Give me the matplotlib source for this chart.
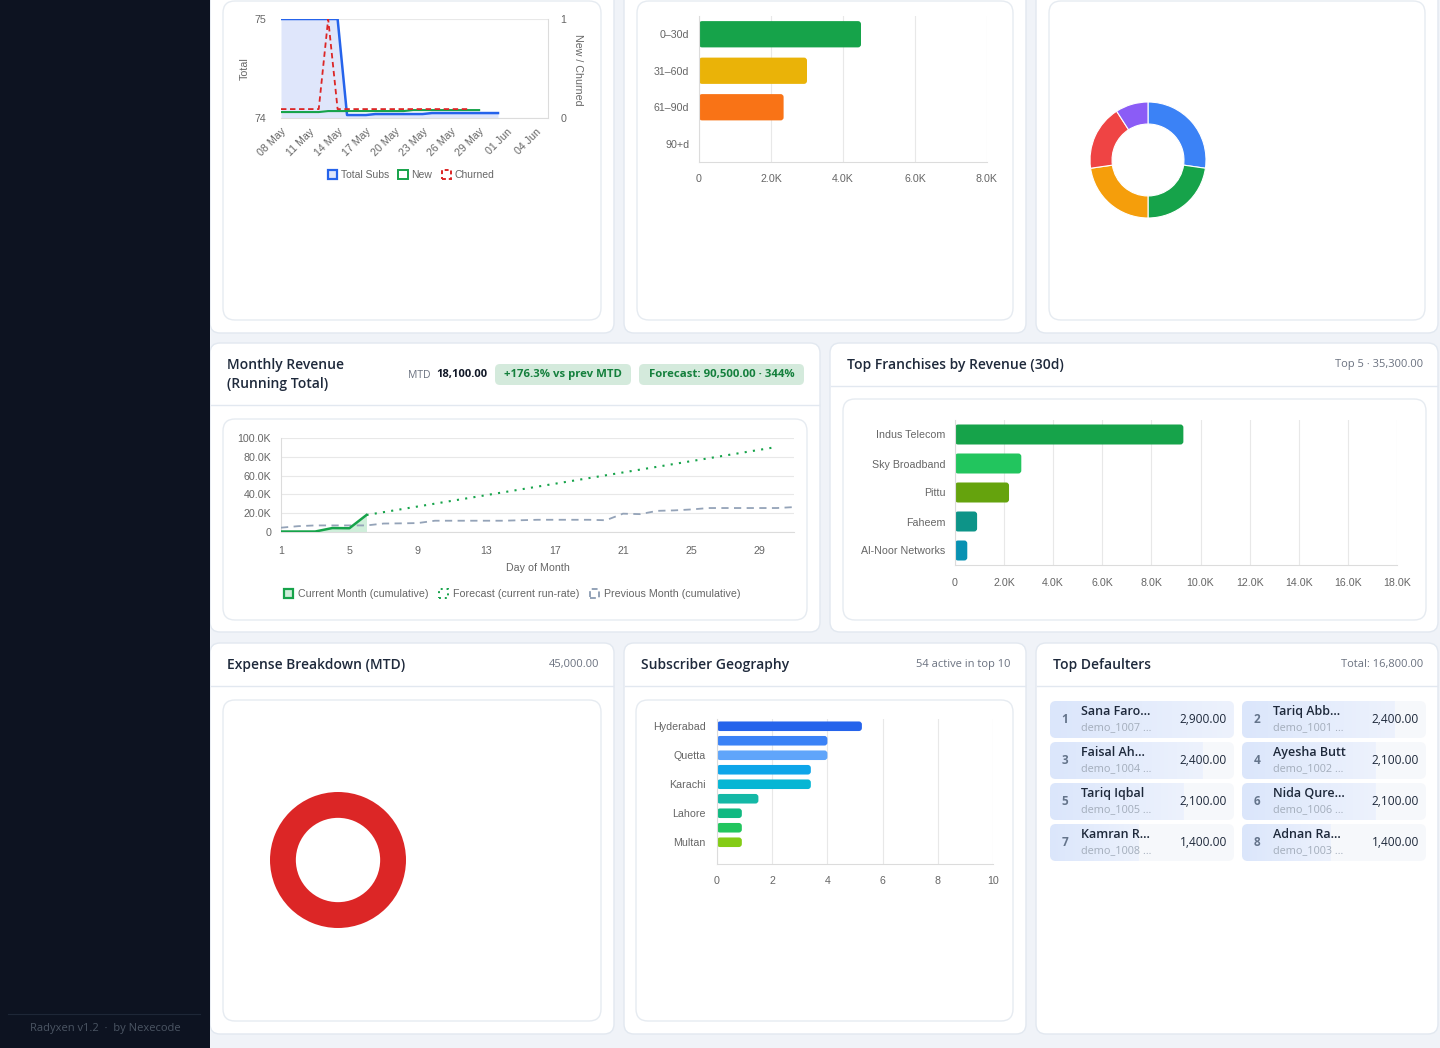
import matplotlib
matplotlib.use('Agg')
import matplotlib.pyplot as plt
import numpy as np
from matplotlib import font_manager as fm
from matplotlib.patches import FancyBboxPatch, Patch, Rectangle
from matplotlib.ticker import FuncFormatter

W, H = 1440, 1048
CHART_FONT = 'Liberation Sans'
TICK = '#666666'
GRID = '#e8e8e8'
AXLINE = '#dcdcdc'

plt.rcParams['font.family'] = [CHART_FONT, 'DejaVu Sans']


def pick_ui_font():
    # need a family that really ships a bold / semibold face
    heavy = {}
    for f in fm.fontManager.ttflist:
        w = f.weight
        if isinstance(w, str):
            w = {'semibold': 600, 'demibold': 600, 'bold': 700}.get(w.lower(), 400)
        if w >= 600:
            heavy[f.name] = True
    for name in ['Noto Sans', 'Open Sans', 'Lato', 'Roboto', 'Inter', 'DejaVu Sans']:
        if heavy.get(name):
            return name
    return 'DejaVu Sans'


UI_FONT = pick_ui_font()

# ---- subscriber trend, one point per day from 08 May ----
sub_ticklabels = ['08 May', '11 May', '14 May', '17 May', '20 May', '23 May',
                  '26 May', '29 May', '01 Jun', '04 Jun']
sub_total = [75, 75, 75, 75, 75, 75, 75, 74.03, 74.03, 74.03, 74.04, 74.04,
             74.04, 74.04, 74.04, 74.04, 74.05, 74.05, 74.05, 74.05, 74.05,
             74.05, 74.05, 74.05]
sub_new = [0.06, 0.06, 0.06, 0.06, 0.06, 0.07, 0.07, 0.07, 0.07, 0.07, 0.07,
           0.07, 0.07, 0.07, 0.08, 0.08, 0.08, 0.08, 0.08, 0.08, 0.08, 0.08]
sub_churned = [0.09, 0.09, 0.09, 0.09, 0.09, 1.0, 0.09, 0.09, 0.09, 0.09, 0.09,
               0.09, 0.09, 0.09, 0.09, 0.09, 0.09, 0.09, 0.09, 0.09, 0.09]

# ---- receivables aging ----
aging_labels = ['0–30d', '31–60d', '61–90d', '90+d']
aging_values = [4500, 3000, 2350, 0]
aging_colors = ['#16a34a', '#eab308', '#f97316', '#dc2626']

# ---- status donut ----
status_values = [6, 5, 5, 4, 2]
status_colors = ['#3b82f6', '#16a34a', '#f59e0b', '#ef4444', '#8b5cf6']

# ---- monthly revenue running total ----
rev_days = [1, 2, 3, 4, 5, 6]
rev_current = [500, 500, 500, 4200, 4000, 18100]
fc_days = [6, 30]
fc_values = [18100, 90500]
prev_days = list(range(1, 32))
prev_values = [4600, 6200, 7000, 7000, 7000, 7000, 9000, 9200, 9500, 12000,
               12000, 12000, 12000, 12000, 12500, 13000, 13000, 13000, 13000,
               12500, 19500, 19000, 22500, 23000, 24000, 25500, 25500, 25500,
               25500, 25500, 26500]
rev_xticks = [1, 5, 9, 13, 17, 21, 25, 29]

# ---- franchises ----
fr_names = ['Indus Telecom', 'Sky Broadband', 'Pittu', 'Faheem', 'Al-Noor Networks']
fr_values = [9300, 2700, 2200, 900, 500]
fr_colors = ['#16a34a', '#22c55e', '#65a30d', '#0d9488', '#0891b2']

# ---- geography (every other label hidden by the chart) ----
geo_labels = ['Hyderabad', '', 'Quetta', '', 'Karachi', '', 'Lahore', '', 'Multan', '']
geo_values = [5.25, 4, 4, 3.4, 3.4, 1.5, 0.9, 0.9, 0.9, 0]
geo_colors = ['#2563eb', '#3b82f6', '#60a5fa', '#0ea5e9', '#06b6d4',
              '#14b8a6', '#10b981', '#22c55e', '#84cc16', '#eab308']

# ---- expenses ----
expense_values = [45000]
expense_colors = ['#dc2626']

# ---- defaulters ----
def_names = ['Sana Faro…', 'Tariq Abb…', 'Faisal Ah…', 'Ayesha Butt',
             'Tariq Iqbal', 'Nida Qure…', 'Kamran R…', 'Adnan Ra…']
def_ids = ['demo_1007 …', 'demo_1001 …', 'demo_1004 …', 'demo_1002 …',
           'demo_1005 …', 'demo_1006 …', 'demo_1008 …', 'demo_1003 …']
def_amounts = [2900, 2400, 2400, 2100, 2100, 2100, 1400, 1400]


fig = plt.figure(figsize=(W / 100, H / 100), dpi=100, facecolor='#f0f3f8')
bg = fig.add_axes([0, 0, 1, 1])
bg.set_xlim(0, W)
bg.set_ylim(H, 0)
bg.axis('off')


def px_axes(x0, y0, x1, y1):
    ax = fig.add_axes([x0 / W, 1 - y1 / H, (x1 - x0) / W, (y1 - y0) / H])
    ax.set_facecolor('none')
    return ax


def box(x0, y0, x1, y1, r=10, fc='white', ec='#e2e8f0', lw=1.0, z=1):
    p = FancyBboxPatch((x0, y0), x1 - x0, y1 - y0,
                       boxstyle=f'round,pad=0,rounding_size={r}',
                       fc=fc, ec=ec, lw=lw, zorder=z)
    bg.add_patch(p)
    return p


def header(x0, x1, y, title, right, sep_y):
    bg.text(x0 + 17, y, title, family=UI_FONT, fontsize=10, weight='semibold',
            color='#1e293b', va='center', zorder=5)
    if right:
        bg.text(x1 - 15, y, right, family=UI_FONT, fontsize=8, color='#6b7280',
                ha='right', va='center', zorder=5)
    bg.plot([x0 + 1, x1 - 1], [sep_y, sep_y], color='#e2e8f0', lw=1, zorder=3)


def k_fmt(v, pos):
    return '0' if v == 0 else f'{v / 1000:.1f}K'


def style(ax, gridx=False, gridy=False):
    for s in ax.spines.values():
        s.set_visible(False)
    ax.tick_params(length=0, labelsize=7.7, labelcolor=TICK, pad=7)
    if gridx:
        ax.xaxis.grid(True, color=GRID, lw=0.8)
    if gridy:
        ax.yaxis.grid(True, color=GRID, lw=0.8)
    ax.set_axisbelow(True)


def round_bars(ax, bars, r=3.0):
    pos = ax.get_position()
    wpx, hpx = pos.width * W, pos.height * H
    xa, xb = ax.get_xlim()
    ya, yb = ax.get_ylim()
    ux = abs(xb - xa) / wpx
    uy = abs(yb - ya) / hpx
    for b in list(bars):
        if b.get_width() > 0:
            ax.add_patch(FancyBboxPatch((b.get_x(), b.get_y()), b.get_width(), b.get_height(),
                                        boxstyle=f'round,pad=0,rounding_size={r * ux}',
                                        mutation_aspect=uy / ux, fc=b.get_facecolor(),
                                        ec='none', zorder=2))
        b.remove()


# ---------------- cards ----------------
for x0, x1 in [(210, 614), (624, 1026), (1036, 1438)]:
    box(x0, -40, x1, 333)
    box(x0 + 13, 1, x1 - 13, 320, r=12, ec='#e6ebf1')
box(210, 343, 820, 632)
box(223, 419, 807, 620, r=12, ec='#e6ebf1')
box(830, 343, 1438, 632)
box(843, 399, 1426, 620, r=12, ec='#e6ebf1')
for x0, x1 in [(210, 614), (624, 1026), (1036, 1438)]:
    box(x0, 643, x1, 1034)
box(223, 700, 601, 1021, r=12, ec='#e6ebf1')
box(636, 700, 1013, 1021, r=12, ec='#e6ebf1')

# sidebar
bg.add_patch(Rectangle((0, 0), 210, H, fc='#0d1321', ec='none', zorder=6))
bg.plot([8, 200], [1014, 1014], color='#1e2737', lw=0.8, zorder=7)
bg.text(105, 1029, 'Radyxen v1.2  ·  by Nexecode', family=UI_FONT, fontsize=8,
        color='#4b5563', ha='center', va='center', zorder=7)

# headers
bg.text(227, 365, 'Monthly Revenue', family=UI_FONT, fontsize=10, weight='semibold',
        color='#1e293b', va='center', zorder=5)
bg.text(227, 384, '(Running Total)', family=UI_FONT, fontsize=10, weight='semibold',
        color='#1e293b', va='center', zorder=5)
bg.plot([211, 819], [405, 405], color='#e2e8f0', lw=1, zorder=3)
bg.text(408, 375, 'MTD', family=UI_FONT, fontsize=7.5, color='#6b7280', va='center', zorder=5)
bg.text(436, 375, '18,100.00', family=UI_FONT, fontsize=8, weight='bold',
        color='#111827', va='center', zorder=5)
box(495, 364, 631, 385, r=5, fc='#d4eadc', ec='none', z=4)
bg.text(563, 374.5, '+176.3% vs prev MTD', family=UI_FONT, fontsize=8.2, weight='bold',
        color='#15803d', ha='center', va='center', zorder=5)
box(639, 364, 804, 385, r=5, fc='#d4eadc', ec='none', z=4)
bg.text(721.5, 374.5, 'Forecast: 90,500.00 · 344%', family=UI_FONT, fontsize=8.2,
        weight='bold', color='#15803d', ha='center', va='center', zorder=5)

header(830, 1438, 365, 'Top Franchises by Revenue (30d)', 'Top 5 · 35,300.00', 386)
header(210, 614, 665, 'Expense Breakdown (MTD)', '45,000.00', 686)
header(624, 1026, 665, 'Subscriber Geography', '54 active in top 10', 686)
header(1036, 1438, 665, 'Top Defaulters', 'Total: 16,800.00', 686)

# ---------------- subscriber trend ----------------
ax1 = px_axes(281, 19, 548, 118)
style(ax1, gridy=True)
xt = np.arange(len(sub_total))
ax1.fill_between(xt, sub_total, 74, color='#dfe6fb', lw=0)
ax1.plot(xt, sub_total, color='#2563eb', lw=1.8, zorder=3)
ax1.set_xlim(0, 28.3)
ax1.set_ylim(74, 75)
ax1.set_yticks([74, 75])
ax1.set_xticks(range(0, 28, 3))
ax1.set_xticklabels(sub_ticklabels, rotation=45, ha='right', rotation_mode='anchor')
ax1.tick_params(axis='x', pad=6)
ax1.tick_params(axis='y', pad=11)
ax1.spines['bottom'].set_visible(True)
ax1.spines['bottom'].set_color(AXLINE)
ax1r = ax1.twinx()
style(ax1r)
ax1r.plot(np.arange(len(sub_new)), sub_new, color='#16a34a', lw=1.5)
ax1r.plot(np.arange(len(sub_churned)), sub_churned, color='#dc2626', lw=1.3, ls=(0, (3, 2)))
ax1r.set_ylim(0, 1)
ax1r.set_yticks([0, 1])
ax1r.tick_params(axis='y', pad=9)
ax1r.spines['right'].set_visible(True)
ax1r.spines['right'].set_color(AXLINE)
bg.text(245, 69, 'Total', rotation=90, fontsize=7.7, color=TICK, ha='center', va='center', zorder=5)
bg.text(578, 70, 'New / Churned', rotation=-90, fontsize=7.7, color=TICK,
        ha='center', va='center', zorder=5)
h1 = [Patch(fc='#dfe6fb', ec='#2563eb', lw=1.6),
      Patch(fc='none', ec='#16a34a', lw=1.4),
      Patch(fc='none', ec='#dc2626', lw=1.4, ls=(0, (2, 1.5)))]
ax1r.legend(h1, ['Total Subs', 'New', 'Churned'], loc='center',
            bbox_to_anchor=(411 / W, 1 - 175 / H), bbox_transform=fig.transFigure,
            ncol=3, frameon=False, fontsize=7.5, labelcolor=TICK, handlelength=0.9,
            handleheight=0.9, handletextpad=0.35, columnspacing=0.9)

# ---------------- aging bars ----------------
ax2 = px_axes(699, 16, 987, 162)
style(ax2, gridx=True)
bars = ax2.barh(range(len(aging_values)), aging_values, height=0.72, color=aging_colors)
ax2.set_yticks(range(len(aging_labels)))
ax2.set_yticklabels(aging_labels)
ax2.set_ylim(3.5, -0.5)
ax2.set_xlim(0, 8000)
ax2.set_xticks([0, 2000, 4000, 6000, 8000])
ax2.xaxis.set_major_formatter(FuncFormatter(k_fmt))
ax2.tick_params(axis='x', pad=9)
for s in ['left', 'bottom']:
    ax2.spines[s].set_visible(True)
    ax2.spines[s].set_color(AXLINE)
round_bars(ax2, bars)

# ---------------- status donut ----------------
ax3 = px_axes(1090, 102, 1206, 218)
ax3.pie(status_values, colors=status_colors, startangle=90, counterclock=False, radius=1,
        wedgeprops=dict(width=0.38, edgecolor='white', linewidth=0.8))
ax3.set_xlim(-1, 1)
ax3.set_ylim(-1, 1)

# ---------------- revenue running total ----------------
ax4 = px_axes(281, 438, 794, 532)
style(ax4, gridy=True)
ax4.fill_between(rev_days, rev_current, 0, color='#cfeeda', lw=0)
ax4.plot(rev_days, rev_current, color='#16a34a', lw=1.8, zorder=4)
ax4.plot(fc_days, fc_values, color='#16a34a', lw=1.5, ls=(0, (1, 3)), zorder=3)
ax4.plot(prev_days, prev_values, color='#94a3b8', lw=1.3, ls=(0, (4, 3)), zorder=3)
ax4.set_xlim(1, 31)
ax4.set_ylim(0, 100000)
ax4.set_yticks([0, 20000, 40000, 60000, 80000, 100000])
ax4.yaxis.set_major_formatter(FuncFormatter(k_fmt))
ax4.set_xticks(rev_xticks)
ax4.tick_params(axis='x', pad=10)
for s in ['left', 'bottom']:
    ax4.spines[s].set_visible(True)
    ax4.spines[s].set_color(AXLINE)
bg.text(538, 568, 'Day of Month', fontsize=7.7, color=TICK, ha='center', va='center', zorder=5)
h4 = [Patch(fc='#cfeeda', ec='#16a34a', lw=1.6),
      Patch(fc='none', ec='#16a34a', lw=1.4, ls=(0, (1, 2))),
      Patch(fc='none', ec='#94a3b8', lw=1.4, ls=(0, (3, 2)))]
ax4.legend(h4, ['Current Month (cumulative)', 'Forecast (current run-rate)',
                'Previous Month (cumulative)'], loc='center',
           bbox_to_anchor=(512 / W, 1 - 594 / H), bbox_transform=fig.transFigure,
           ncol=3, frameon=False, fontsize=7.7, labelcolor=TICK, handlelength=0.9,
           handleheight=0.9, handletextpad=0.4, columnspacing=1.0)

# ---------------- franchises ----------------
ax5 = px_axes(955, 420, 1397, 565)
style(ax5, gridx=True)
bars = ax5.barh(range(len(fr_values)), fr_values, height=0.69, color=fr_colors)
ax5.set_yticks(range(len(fr_names)))
ax5.set_yticklabels(fr_names)
ax5.set_ylim(4.5, -0.5)
ax5.set_xlim(0, 18000)
ax5.set_xticks(range(0, 18001, 2000))
ax5.xaxis.set_major_formatter(FuncFormatter(k_fmt))
ax5.tick_params(axis='x', pad=9)
for s in ['left', 'bottom']:
    ax5.spines[s].set_visible(True)
    ax5.spines[s].set_color(AXLINE)
round_bars(ax5, bars)

# ---------------- expense donut ----------------
ax6 = px_axes(270, 792, 406, 928)
ax6.pie(expense_values, colors=expense_colors, startangle=90, radius=1,
        wedgeprops=dict(width=0.38, linewidth=0))
ax6.set_xlim(-1, 1)
ax6.set_ylim(-1, 1)

# ---------------- geography ----------------
ax7 = px_axes(717, 719, 993, 864)
style(ax7, gridx=True)
bars = ax7.barh(range(len(geo_values)), geo_values, height=0.66, color=geo_colors)
ax7.set_yticks(range(len(geo_labels)))
ax7.set_yticklabels(geo_labels)
ax7.set_ylim(9.5, -0.5)
ax7.set_xlim(0, 10)
ax7.set_xticks([0, 2, 4, 6, 8, 10])
ax7.tick_params(axis='x', pad=9)
ax7.tick_params(axis='y', pad=8)
for s in ['left', 'bottom']:
    ax7.spines[s].set_visible(True)
    ax7.spines[s].set_color(AXLINE)
round_bars(ax7, bars)

# ---------------- defaulters ----------------
grad = np.linspace([219, 230, 251], [237, 242, 253], 64)[None, :, :] / 255.0
top_amt = max(def_amounts)
for i, (nm, did, amt) in enumerate(zip(def_names, def_ids, def_amounts)):
    x0 = 1050 if i % 2 == 0 else 1242
    y0 = 701 + 41 * (i // 2)
    w, h = 184, 37
    item = box(x0, y0, x0 + w, y0 + h, r=6, fc='#f6f8fb', ec='none', z=2)
    im = bg.imshow(grad, extent=(x0, x0 + w * amt / top_amt, y0 + h, y0),
                   aspect='auto', zorder=3, interpolation='bilinear')
    im.set_clip_path(item)
    bg.text(x0 + 15, y0 + h / 2, str(i + 1), family=UI_FONT, fontsize=8.5, weight='bold',
            color='#64748b', ha='center', va='center', zorder=5)
    bg.text(x0 + 31, y0 + 10.5, nm, family=UI_FONT, fontsize=9, weight='semibold',
            color='#1e293b', va='center', zorder=5)
    bg.text(x0 + 31, y0 + 27, did, family=UI_FONT, fontsize=7.8,
            color='#a3adbb', va='center', zorder=5)
    bg.text(x0 + w - 7, y0 + h / 2, f'{amt:,.2f}', family=UI_FONT, fontsize=8.6,
            color='#1e293b', ha='right', va='center', zorder=5)

bg.set_xlim(0, W)
bg.set_ylim(H, 0)
fig.savefig('out.png', dpi=100, facecolor=fig.get_facecolor())
